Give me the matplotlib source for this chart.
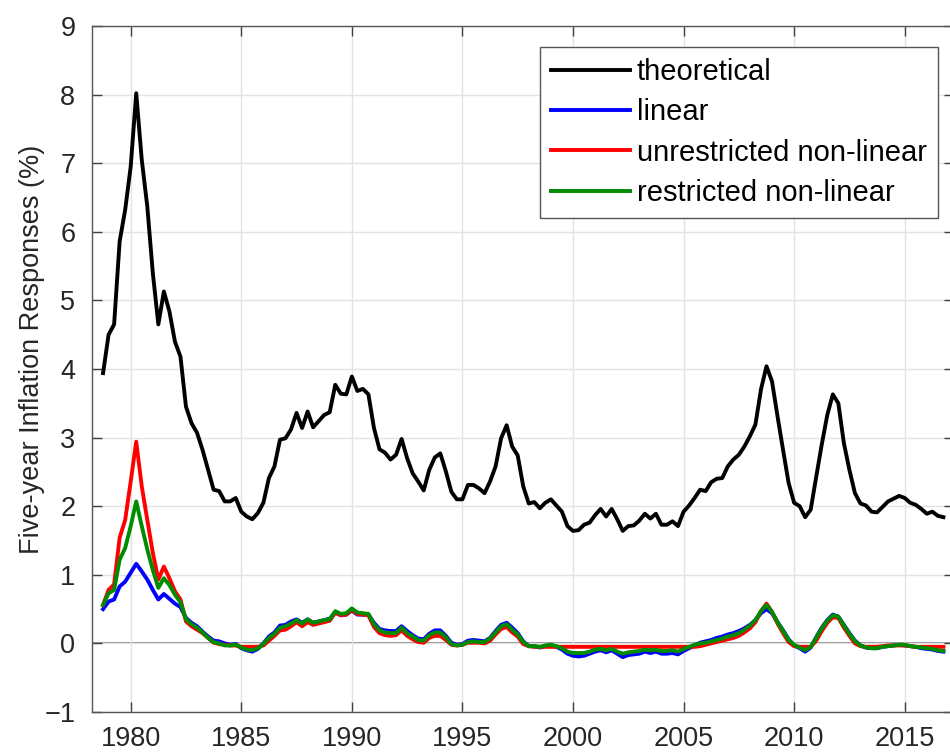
import numpy as np
import matplotlib
matplotlib.use("Agg")
import matplotlib.pyplot as plt

plt.rcParams['font.family'] = ['Liberation Sans', 'DejaVu Sans']

start_year = 1978.75  # first quarter plotted
theoretical = [
    3.94, 4.50, 4.65, 5.86, 6.32, 6.95, 8.02, 7.05, 6.37, 5.40, 4.65, 5.13, 4.84, 4.40, 4.18, 3.45,
    3.21, 3.07, 2.82, 2.53, 2.24, 2.22, 2.07, 2.07, 2.12, 1.92, 1.85, 1.81, 1.90, 2.05, 2.41, 2.58,
    2.97, 2.99, 3.12, 3.36, 3.14, 3.38, 3.15, 3.24, 3.33, 3.37, 3.77, 3.64, 3.63, 3.89, 3.68, 3.71,
    3.63, 3.14, 2.83, 2.78, 2.68, 2.75, 2.98, 2.70, 2.48, 2.36, 2.23, 2.53, 2.71, 2.77, 2.51, 2.21,
    2.10, 2.10, 2.31, 2.31, 2.26, 2.19, 2.36, 2.58, 2.99, 3.18, 2.87, 2.74, 2.29, 2.04, 2.06, 1.97,
    2.05, 2.10, 2.01, 1.92, 1.71, 1.64, 1.65, 1.73, 1.76, 1.87, 1.96, 1.85, 1.96, 1.81, 1.64, 1.71,
    1.72, 1.79, 1.89, 1.82, 1.89, 1.73, 1.73, 1.78, 1.71, 1.92, 2.01, 2.12, 2.24, 2.22, 2.35, 2.40,
    2.41, 2.58, 2.68, 2.75, 2.87, 3.02, 3.19, 3.70, 4.04, 3.82, 3.31, 2.82, 2.34, 2.05, 2.00, 1.84,
    1.95, 2.43, 2.90, 3.33, 3.63, 3.50, 2.92, 2.53, 2.19, 2.04, 2.01, 1.92, 1.91, 1.99, 2.07, 2.11,
    2.15, 2.12, 2.05, 2.02, 1.96, 1.89, 1.92, 1.86, 1.84,
]
linear = [
    0.50, 0.61, 0.64, 0.83, 0.90, 1.03, 1.16, 1.05, 0.93, 0.78, 0.64, 0.72, 0.65, 0.58, 0.53, 0.37,
    0.30, 0.25, 0.17, 0.10, 0.04, 0.03, 0.00, -0.02, -0.01, -0.07, -0.10, -0.12, -0.08, 0.00, 0.10, 0.16,
    0.26, 0.27, 0.32, 0.35, 0.30, 0.35, 0.30, 0.32, 0.34, 0.36, 0.45, 0.41, 0.42, 0.48, 0.42, 0.42,
    0.42, 0.30, 0.21, 0.19, 0.18, 0.18, 0.25, 0.18, 0.12, 0.07, 0.06, 0.14, 0.19, 0.19, 0.11, 0.01,
    -0.02, -0.01, 0.04, 0.05, 0.04, 0.03, 0.08, 0.18, 0.27, 0.30, 0.23, 0.15, 0.03, -0.04, -0.04, -0.06,
    -0.04, -0.03, -0.05, -0.09, -0.15, -0.18, -0.19, -0.18, -0.15, -0.12, -0.10, -0.13, -0.10, -0.15, -0.20, -0.17,
    -0.16, -0.15, -0.12, -0.14, -0.12, -0.15, -0.15, -0.14, -0.16, -0.11, -0.07, -0.03, 0.01, 0.03, 0.05, 0.08,
    0.10, 0.13, 0.15, 0.18, 0.22, 0.27, 0.34, 0.44, 0.50, 0.44, 0.31, 0.19, 0.06, -0.03, -0.07, -0.12,
    -0.06, 0.09, 0.23, 0.34, 0.42, 0.39, 0.27, 0.15, 0.04, -0.03, -0.06, -0.07, -0.07, -0.05, -0.04, -0.03,
    -0.02, -0.03, -0.04, -0.05, -0.07, -0.08, -0.09, -0.11, -0.12,
]
unrestricted = [
    0.56, 0.78, 0.86, 1.54, 1.80, 2.36, 2.94, 2.29, 1.80, 1.32, 0.93, 1.12, 0.95, 0.76, 0.64, 0.32,
    0.25, 0.20, 0.15, 0.08, 0.01, -0.01, -0.02, -0.03, -0.03, -0.05, -0.05, -0.05, -0.05, -0.03, 0.04, 0.11,
    0.19, 0.20, 0.25, 0.31, 0.25, 0.31, 0.27, 0.29, 0.31, 0.33, 0.45, 0.41, 0.42, 0.49, 0.43, 0.42,
    0.41, 0.24, 0.15, 0.12, 0.11, 0.12, 0.19, 0.11, 0.06, 0.02, 0.01, 0.08, 0.11, 0.11, 0.05, -0.02,
    -0.03, -0.02, 0.01, 0.01, 0.01, 0.00, 0.04, 0.13, 0.21, 0.24, 0.16, 0.10, -0.01, -0.04, -0.05, -0.05,
    -0.05, -0.05, -0.05, -0.05, -0.05, -0.05, -0.05, -0.05, -0.05, -0.05, -0.05, -0.05, -0.05, -0.05, -0.05, -0.05,
    -0.05, -0.05, -0.05, -0.05, -0.05, -0.05, -0.05, -0.05, -0.05, -0.05, -0.05, -0.05, -0.04, -0.02, 0.00, 0.02,
    0.04, 0.06, 0.08, 0.11, 0.16, 0.22, 0.31, 0.47, 0.58, 0.46, 0.29, 0.15, 0.02, -0.04, -0.05, -0.05,
    -0.05, 0.04, 0.18, 0.30, 0.38, 0.37, 0.23, 0.11, 0.00, -0.04, -0.05, -0.05, -0.05, -0.04, -0.03, -0.03,
    -0.03, -0.03, -0.04, -0.05, -0.05, -0.05, -0.05, -0.05, -0.05,
]
restricted = [
    0.56, 0.73, 0.78, 1.22, 1.39, 1.71, 2.07, 1.71, 1.37, 1.07, 0.81, 0.95, 0.85, 0.71, 0.60, 0.35,
    0.28, 0.23, 0.16, 0.08, 0.02, 0.00, -0.03, -0.03, -0.02, -0.06, -0.09, -0.10, -0.07, -0.01, 0.08, 0.14,
    0.23, 0.25, 0.29, 0.34, 0.29, 0.35, 0.30, 0.32, 0.34, 0.35, 0.47, 0.43, 0.44, 0.51, 0.45, 0.44,
    0.43, 0.28, 0.19, 0.16, 0.15, 0.15, 0.23, 0.15, 0.10, 0.05, 0.04, 0.12, 0.16, 0.16, 0.09, -0.01,
    -0.03, -0.02, 0.02, 0.03, 0.02, 0.02, 0.07, 0.16, 0.25, 0.28, 0.20, 0.13, 0.02, -0.04, -0.04, -0.05,
    -0.03, -0.02, -0.04, -0.07, -0.12, -0.14, -0.14, -0.14, -0.12, -0.09, -0.08, -0.10, -0.08, -0.12, -0.15, -0.13,
    -0.12, -0.11, -0.09, -0.10, -0.09, -0.11, -0.11, -0.10, -0.12, -0.08, -0.05, -0.02, 0.00, 0.01, 0.03, 0.05,
    0.07, 0.10, 0.12, 0.15, 0.20, 0.26, 0.34, 0.47, 0.56, 0.46, 0.31, 0.18, 0.05, -0.02, -0.06, -0.10,
    -0.05, 0.08, 0.22, 0.33, 0.41, 0.39, 0.26, 0.14, 0.03, -0.03, -0.06, -0.07, -0.07, -0.05, -0.04, -0.03,
    -0.02, -0.02, -0.04, -0.05, -0.06, -0.07, -0.08, -0.10, -0.11,
]
series_labels = ["theoretical", "linear", "unrestricted non-linear", "restricted non-linear"]
series_colors = ["black", "#0000ff", "#ff0000", "#008c00"]
x_ticks = [1980, 1985, 1990, 1995, 2000, 2005, 2010, 2015]
y_ticks = [-1, 0, 1, 2, 3, 4, 5, 6, 7, 8, 9]
ylabel = "Five-year Inflation Responses (%)"

n = len(theoretical)
years = start_year + 0.25 * np.arange(n)

fig = plt.figure(figsize=(9.5, 7.53), dpi=100)
W, H = 950, 753
x0, x1 = 1978.25, 2017.25
left_px, right_px = 92, 92 + 39 * 22.114
top_px, bot_px = 26, 712
ax = fig.add_axes([left_px / W, 1 - bot_px / H, (right_px - left_px) / W, (bot_px - top_px) / H])

ax.grid(True, color="#e3e3e3", linewidth=1.0, zorder=0)
ax.axhline(0, color="#8c8c8c", linewidth=1.4, zorder=1)

for vals, lab, col in zip([theoretical, linear, unrestricted, restricted], series_labels, series_colors):
    ax.plot(years, vals, color=col, linewidth=2.8, label=lab, zorder=3, solid_joinstyle="round")

ax.set_xlim(x0, x1)
ax.set_ylim(-1, 9)
ax.set_xticks(x_ticks)
ax.set_yticks(y_ticks)
ax.tick_params(direction="in", length=7, width=1, color="#404040", labelsize=19.5,
               top=True, right=True, labelcolor="#262626")
ax.tick_params(axis="x", pad=10)
ax.tick_params(axis="y", pad=12)
for s in ax.spines.values():
    s.set_color("#555555")
    s.set_linewidth(1.0)

ax.set_ylabel(ylabel, fontsize=19.5, color="#262626")
ax.yaxis.set_label_coords(-0.054, 0.528)

leg = ax.legend(loc="upper right", bbox_to_anchor=(938 / W, 1 - 47 / H),
                bbox_transform=fig.transFigure, fontsize=21, frameon=True,
                fancybox=False, edgecolor="#555555", framealpha=1,
                handlelength=2.7, handletextpad=0.25, labelspacing=0.42,
                borderpad=0.38, borderaxespad=0)
leg.get_frame().set_linewidth(1.0)
for line in leg.get_lines():
    line.set_linewidth(2.8)

fig.savefig("out.png", dpi=100)
